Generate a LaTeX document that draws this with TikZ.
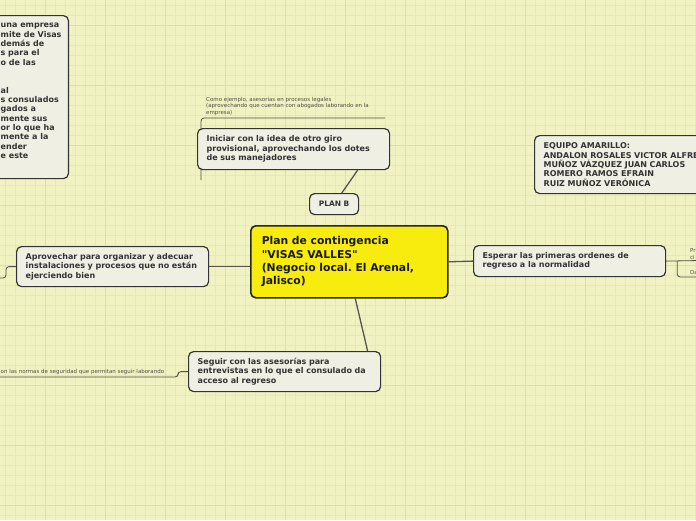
\documentclass[tikz,border=0pt]{standalone}
\usepackage{fontspec}
\setmainfont{DejaVu Sans}
\usetikzlibrary{positioning}
\frenchspacing

\definecolor{paper}{RGB}{240,242,193}
\definecolor{gridminor}{RGB}{229,232,184}
\definecolor{gridmajor}{RGB}{220,223,174}
\definecolor{boxfill}{RGB}{240,239,228}
\definecolor{boxline}{RGB}{51,51,51}
\definecolor{boxtext}{RGB}{51,51,51}
\definecolor{rootfill}{RGB}{248,236,14}
\definecolor{linkcol}{RGB}{85,85,85}
\definecolor{notecol}{RGB}{80,80,72}

\pgfdeclarelayer{grid}
\pgfdeclarelayer{links}
\pgfsetlayers{grid,links,main}

\newcommand\topicfont{\fontsize{8}{9.4}\selectfont\bfseries}
\newcommand\listfont{\fontsize{8}{9.33}\selectfont\bfseries}
\newcommand\tagfont{\fontsize{7.5}{9}\selectfont\bfseries}
\newcommand\rootfont{\fontsize{10.8}{13.4}\selectfont\bfseries}
\newcommand\notefont{\fontsize{5.5}{6.5}\selectfont}

\tikzset{
  box/.style={draw=boxline, fill=boxfill, line width=1.2pt, rounded corners=5pt,
    text=boxtext, inner ysep=0pt},
  topic/.style={box, font=\topicfont, align=left, inner xsep=9pt,
    text width=174pt, anchor=north west},
  tagbox/.style={box, font=\tagfont, align=center, inner sep=0pt,
    minimum width=49pt, minimum height=21pt, anchor=north west},
  root/.style={topic, fill=rootfill, draw=black!85, line width=1.6pt,
    font=\rootfont, text=black!90, inner xsep=11pt, text width=175pt,
    minimum height=72pt},
  link/.style={draw=linkcol, line width=1.3pt},
  notelink/.style={draw=notecol, line width=0.8pt, rounded corners=3pt},
  note/.style={font=\notefont, text=notecol, align=left, inner sep=0pt,
    anchor=base west},
}

\begin{document}
\begin{tikzpicture}[x=1pt, y=-1pt]
\useasboundingbox (0,0) rectangle (696,520);

% background grid
\begin{pgfonlayer}{grid}
  \fill[paper] (0,0) rectangle (696,520);
  \foreach \g in {5,15,...,695} \draw[gridminor, line width=0.6pt] (\g,0) -- (\g,520);
  \foreach \g in {5,15,...,515} \draw[gridminor, line width=0.6pt] (0,\g) -- (696,\g);
  \foreach \g in {45,105,...,645} \draw[gridmajor, line width=0.9pt] (\g,0) -- (\g,520);
  \foreach \g in {25,85,...,505} \draw[gridmajor, line width=0.9pt] (0,\g) -- (696,\g);
\end{pgfonlayer}

% central topic
\node[root] (central) at (250,225) {Plan de contingencia\\\textquotedbl VISAS VALLES\textquotedbl\\(Negocio local. El Arenal,\\Jalisco)};

% branches
\node[tagbox] (planb) at (309,193) {PLAN B};
\node[topic, minimum height=41pt] (iniciar) at (197,128) {Iniciar con la idea de otro giro\\provisional, aprovechando los dotes\\de sus manejadores};
\node[topic, minimum height=40pt] (aprov) at (16,246) {Aprovechar para organizar y adecuar\\instalaciones y procesos que no están\\ejerciendo bien};
\node[topic, minimum height=40pt] (seguir) at (188,351) {Seguir con las asesorías para\\entrevistas en lo que el consulado da\\acceso al regreso};
\node[topic, minimum height=31pt] (esperar) at (473,245) {Esperar las primeras ordenes de\\regreso a la normalidad};
\node[topic, font=\listfont, text width=204pt, minimum height=58pt] (equipo) at (534,135) {EQUIPO AMARILLO:\\ANDALON ROSALES VICTOR ALFRE\\MUÑOZ VÁZQUEZ JUAN CARLOS\\ROMERO RAMOS EFRAIN\\RUIZ MUÑOZ VERÓNICA};

% cut-off box on the left
\node[box, minimum width=200pt, minimum height=163pt, anchor=north east] (visas) at (69,15) {};
\node[note, font=\listfont, text=boxtext] (visastext) at (0.5,158.5) {una empresa\\mite de Visas\\demás de\\s para el\\o de las\\\mbox{}\\\mbox{}\\al\\s consulados\\gados a\\mente sus\\or lo que ha\\mente a la\\ender\\e este};

% notes
\node[note] (ejemplo) at (206,114) {Como ejemplo, asesorias en procesos legales\\(aprovechando que cuentan con abogados laborando en la\\empresa)};
\node[note] (normas) at (0.5,373.5) {on las normas de seguridad que permitan seguir laborando};
\node[note] (prci) at (690,259) {Pr\\ci};
\node[note] (da) at (690,274.5) {Da};

\coordinate (ejroot) at (201,180);
\coordinate (ejend) at (385,118);
\coordinate (normasend) at (-2,377);
\coordinate (aprovend) at (-2,278);
\coordinate (prend) at (700,260.5);
\coordinate (daend) at (700,277);

% connectors
\begin{pgfonlayer}{links}
  \draw[link] (aprov.east) -- (aprov.east -| central.west);
  \draw[link] (central.east) -- (esperar.west);
  \draw[link] (planb.center) -- ([xshift=64pt]iniciar.south);
  \draw[link] ([xshift=6pt]central.south) -- ([xshift=83pt]seguir.north);
  \draw[notelink] (ejroot) |- (ejend);
  \draw[notelink] (seguir.west) -- ++(-10,0) |- (normasend);
  \draw[notelink] (aprov.west) -- ++(-10,0) |- (aprovend);
  \draw[notelink] (esperar.east) -- (prend);
  \draw[notelink] ([xshift=11pt]esperar.east) |- (daend);
\end{pgfonlayer}

\end{tikzpicture}
\end{document}
